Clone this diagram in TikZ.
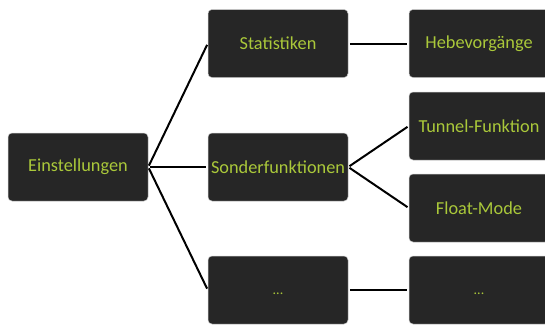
\documentclass[tikz,border=0pt]{standalone}
\usepackage{fontspec}
\setmainfont{Carlito}
\definecolor{boxfill}{HTML}{262626}
\definecolor{boxtext}{RGB}{170,200,58}
\definecolor{boxline}{HTML}{C8C8C8}
\newcommand{\mydots}{\vphantom{Eg}{\fontsize{14}{16}\selectfont ...}}
\begin{document}
\begin{tikzpicture}[x=1pt,y=-1pt,
  box/.style={draw=boxline,line width=0.5pt,fill=boxfill,rounded corners=4pt,
    minimum width=140pt,minimum height=68pt,inner sep=0pt,text=boxtext,
    font=\fontsize{18.3}{22}\selectfont},
  conn/.style={line width=2pt,draw=black,shorten <=1.5pt,shorten >=1.5pt}]
\useasboundingbox (0,0) rectangle (545,324);
\node[box] (ein) at (78,167) {Einstellungen};
\node[box] (stat) at (278,43.5) {Statistiken};
\node[box] (sond) at (278,167) {Sonderfunktionen};
\node[box] (dotsa) at (278,290) {\mydots};
\node[box] (heb) at (479,43.5) {Hebevorgänge};
\node[box] (tun) at (479,126) {Tunnel-Funktion};
\node[box] (flo) at (479,208) {Float-Mode};
\node[box] (dotsb) at (479,290) {\mydots};
\draw[conn] (ein.east) -- (stat.west);
\draw[conn] (ein.east) -- (sond.west);
\draw[conn] (ein.east) -- (dotsa.west);
\draw[conn] (stat.east) -- (heb.west);
\draw[conn] (sond.east) -- (tun.west);
\draw[conn] (sond.east) -- (flo.west);
\draw[conn] (dotsa.east) -- (dotsb.west);
\end{tikzpicture}
\end{document}
